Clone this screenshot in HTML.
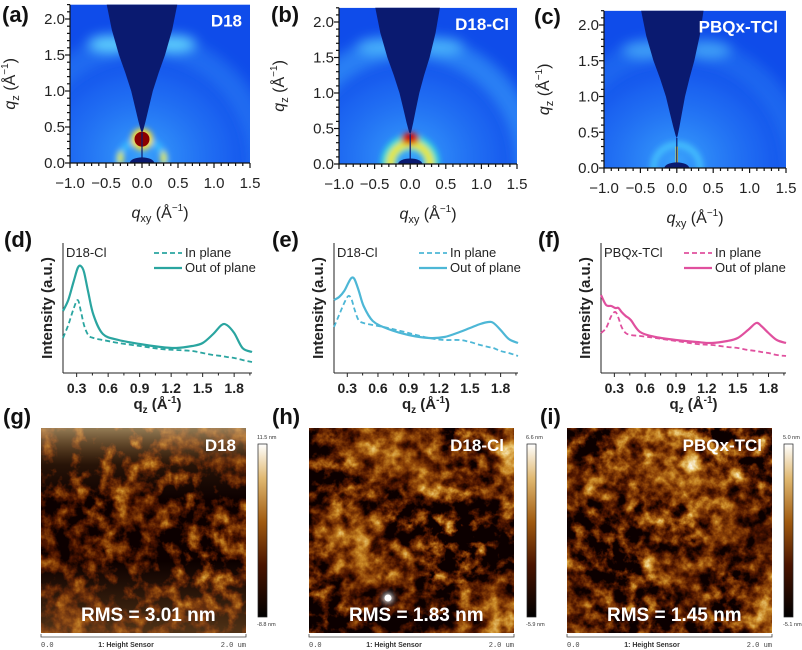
<!DOCTYPE html>
<html><head><meta charset="utf-8"><style>
html,body{margin:0;padding:0;background:#fff;}
svg{display:block;font-family:"Liberation Sans",Arial,sans-serif;}
</style></head><body>
<svg id="fig" width="802" height="650" viewBox="0 0 802 650" xmlns="http://www.w3.org/2000/svg">
<defs>
 <filter id="blur3" x="-50%" y="-50%" width="200%" height="200%"><feGaussianBlur stdDeviation="3"/></filter>
 <filter id="blur6" x="-50%" y="-50%" width="200%" height="200%"><feGaussianBlur stdDeviation="6"/></filter>
 <radialGradient id="bgGlow" cx="0.4" cy="0.95" r="0.85">
  <stop offset="0" stop-color="#40b0ff" stop-opacity="0.85"/>
  <stop offset="0.55" stop-color="#2a80f8" stop-opacity="0.45"/>
  <stop offset="1" stop-color="#1048e6" stop-opacity="0"/>
 </radialGradient>
 <linearGradient id="cbar" x1="0" y1="1" x2="0" y2="0">
  <stop offset="0" stop-color="#000"/>
  <stop offset="0.3" stop-color="#4a1400"/>
  <stop offset="0.55" stop-color="#a05a10"/>
  <stop offset="0.8" stop-color="#e0b870"/>
  <stop offset="1" stop-color="#fff"/>
 </linearGradient>
 <linearGradient id="gOverlay" x1="0" y1="0" x2="0" y2="1">
  <stop offset="0" stop-color="#f0d090" stop-opacity="0.6"/>
  <stop offset="0.18" stop-color="#c08030" stop-opacity="0.15"/>
  <stop offset="0.35" stop-color="#c08030" stop-opacity="0"/>
  <stop offset="0.65" stop-color="#c08030" stop-opacity="0"/>
  <stop offset="1" stop-color="#d09040" stop-opacity="0.35"/>
 </linearGradient>
</defs>
</svg>
<script>
const NS="http://www.w3.org/2000/svg";
const svg=document.getElementById('fig');
function el(tag,attrs,parent){const e=document.createElementNS(NS,tag);for(const k in attrs)e.setAttribute(k,attrs[k]);(parent||svg).appendChild(e);return e;}
function txt(s,attrs,parent){const t=el('text',attrs,parent);t.textContent=s;return t;}

/* ---------- line profile data (d,e,f) ---------- */
const qVals=[0.17,0.22,0.27,0.31,0.34,0.37,0.41,0.46,0.55,0.7,0.9,1.1,1.25,1.4,1.5,1.6,1.68,1.73,1.8,1.88,1.97];
const dOut=[62,73,91,105,107,101,81,58,39,33,29,26,25,27,30,39,48,48,40,25,21];
const dIn=[35,48,64,73,62,48,38,35,33,30,27,24,23,22,20,18,17,16,15,13,11];
const eOut=[73,76,82,90,95,94,83,67,52,44,38,35,36,41,45,49,51,50,43,34,30];
const eIn=[46,58,70,77,74,64,53,50,48,45,40,35,33,33,31,28,26,25,22,20,17];
const fOut=[78,68,67,65,65,61,57,53,41,36,33,31,30,32,35,43,50,47,40,33,30];
const fIn=[40,45,57,61,55,46,40,38,37,35,32,29,28,26,25,23,22,21,20,18,17];
const qTicks=[0.3,0.6,0.9,1.2,1.5,1.8];
const qTickLabels=["0.3","0.6","0.9","1.2","1.5","1.8"];

/* ---------- GIWAXS axes ---------- */
const xyTicks=[-1.0,-0.5,0.0,0.5,1.0,1.5];
const xyTickLabels=["\u22121.0","\u22120.5","0.0","0.5","1.0","1.5"];
const zTicks=[0.0,0.5,1.0,1.5,2.0];
const zTickLabels=["0.0","0.5","1.0","1.5","2.0"];

function panelLabel(s,x,y){const t=txt(s,{x:x,y:y,'font-size':22,'font-weight':'bold',fill:'#111'});

}

/* ---------- GIWAXS panels ---------- */
function giwaxs(id,P){
 const g=el('g',{});
 
 
 const sx=(P.x1-P.x0)/2.5, sy=(P.y0-P.y2)/2.0;
 const X=q=>P.x0+(q+1)*sx, Y=q=>P.y0-q*sy;
 const top=Y(2.2), bot=Y(0);
 const cp=el('clipPath',{id:'clip'+id},svg.querySelector('defs'));
 el('rect',{x:P.x0,y:top,width:P.x1-P.x0,height:bot-top},cp);
 const img=el('g',{'clip-path':'url(#clip'+id+')'},g);
 
 
 el('rect',{x:P.x0,y:top,width:P.x1-P.x0,height:bot-top,fill:'#0f4cea'},img);
 el('rect',{x:P.x0,y:top,width:P.x1-P.x0,height:bot-top,fill:'url(#bgGlow)'},img);
 const bl=el('g',{filter:'url(#blur6)'},img);
 const bs=el('g',{filter:'url(#blur3)'},img);
 el('ellipse',{cx:X(-0.45),cy:Y(1.65),rx:0.3*sx,ry:0.12*sy,fill:'#6ee8ff',opacity:P.hiGlow},bl);
 el('ellipse',{cx:X(0.45),cy:Y(1.65),rx:0.3*sx,ry:0.12*sy,fill:'#6ee8ff',opacity:P.hiGlow},bl);
 el('circle',{cx:X(0),cy:Y(0),r:1.65*sx,fill:'none',stroke:'#48b8ff','stroke-width':0.35*sx,opacity:P.ringGlow},bl);
 if(P.kind==='a'){
  el('circle',{cx:X(0),cy:Y(0),r:0.32*sx,fill:'none',stroke:'#40d0ff','stroke-width':7,opacity:0.6},bs);
  el('ellipse',{cx:X(-0.3),cy:Y(0.07),rx:3,ry:7,fill:'#f0f040'},bs);
  el('ellipse',{cx:X(0.3),cy:Y(0.07),rx:3,ry:7,fill:'#f0f040'},bs);
  el('circle',{cx:X(0),cy:Y(0.33),r:11,fill:'#ffe030'},bs);
  el('circle',{cx:X(0),cy:Y(0.33),r:7.5,fill:'#8a0000'},img);
 } else if(P.kind==='b'){
  el('circle',{cx:X(0),cy:Y(0),r:0.3*sx,fill:'none',stroke:'#30e8d0','stroke-width':16,opacity:0.85},bs);
  el('circle',{cx:X(0),cy:Y(0),r:0.28*sx,fill:'none',stroke:'#ffe820','stroke-width':8,opacity:0.9},bs);
  el('ellipse',{cx:X(0),cy:Y(0.36),rx:9,ry:6,fill:'#d01010'},bs);
 } else {
  el('circle',{cx:X(0),cy:Y(0),r:0.32*sx,fill:'none',stroke:'#50d8ff','stroke-width':6,opacity:0.65},bs);
  el('rect',{x:X(0)-1.2,y:Y(0.3),width:2.4,height:0.3*sy,fill:'#f0e040'},img);
 }
 const L=[[-0.015,0.45],[-0.05,0.58],[-0.09,0.75],[-0.15,1.0],[-0.23,1.25],[-0.32,1.5],[-0.42,1.85],[-0.5,2.25]];
 let d='M'+X(0)+','+Y(0.42);
 L.forEach(p=>d+=' L'+X(p[0]*P.wl).toFixed(1)+','+Y(p[1]).toFixed(1));
 L.slice().reverse().forEach(p=>d+=' L'+X(-p[0]*P.wr).toFixed(1)+','+Y(p[1]).toFixed(1));
 d+='Z';
 const w=el('path',{d:d,fill:'#0a1a70'},img);
 
 
 el('line',{x1:X(0),y1:Y(0.42),x2:X(0),y2:Y(0),stroke:'#0a1a70','stroke-width':1.2},img);
 el('ellipse',{cx:X(0),cy:Y(0),rx:0.17*sx,ry:0.05*sy+2,fill:'#0a1a70'},img);
 const ax=el('g',{stroke:'#111','stroke-width':1.2},g);
 
 
 el('line',{x1:P.x0,y1:top,x2:P.x0,y2:bot},ax);
 el('line',{x1:P.x0,y1:bot,x2:P.x1,y2:bot},ax);
 for(let i=0;i<=22;i++){const yy=Y(i*0.1);el('line',{x1:P.x0,y1:yy,x2:P.x0-(i%5==0?5:3),y2:yy},ax);}
 for(let i=0;i<=25;i++){const xx=X(-1+i*0.1);el('line',{x1:xx,y1:bot,x2:xx,y2:bot+(i%5==0?5:3)},ax);}
 zTicks.forEach((v,i)=>{const t=txt(zTickLabels[i],{x:P.x0-5,y:Y(v)+5,'font-size':15,'text-anchor':'end',fill:'#222'},g);
  });
 xyTicks.forEach((v,i)=>{const t=txt(xyTickLabels[i],{x:X(v),y:bot+25,'font-size':15,'text-anchor':'middle',fill:'#222'},g);
  });
 const yt=el('text',{transform:'translate('+(P.x0-55)+','+(top+(bot-top)/2)+') rotate(-90)','font-size':16,'text-anchor':'middle',fill:'#222'},g);
 yt.innerHTML='<tspan font-style="italic">q</tspan><tspan font-size="11" dy="4">z</tspan><tspan dy="-4"> (Å</tspan><tspan font-size="10" dy="-7">\u22121</tspan><tspan dy="7">)</tspan>';
 
 const xt=el('text',{x:X(0.25),y:bot+55,'font-size':16,'text-anchor':'middle',fill:'#222'},g);
 xt.innerHTML='<tspan font-style="italic">q</tspan><tspan font-size="11" dy="4">xy</tspan><tspan dy="-4"> (Å</tspan><tspan font-size="10" dy="-7">\u22121</tspan><tspan dy="7">)</tspan>';
 
 const nm=txt(P.name,{x:P.x1-8,y:top+22,'font-size':17,'font-weight':'bold',fill:'#fff','text-anchor':'end'},g);
 
}
panelLabel('(a)',2,22);panelLabel('(b)',271,22);panelLabel('(c)',534,24);
giwaxs('a',{x0:70,x1:250,y0:163,y2:19,kind:'a',name:'D18',hiGlow:0.9,ringGlow:0.25,wl:1,wr:1});
giwaxs('b',{x0:339,x1:517,y0:164,y2:22,kind:'b',name:'D18-Cl',hiGlow:0.6,ringGlow:0.45,wl:1,wr:0.85});
giwaxs('c',{x0:604,x1:786,y0:168,y2:25,kind:'c',name:'PBQx-TCl',hiGlow:0.5,ringGlow:0.2,wl:1,wr:0.75});

/* ---------- line profile panels ---------- */
function smoothPath(pts){
 let d='M'+pts[0][0].toFixed(1)+','+pts[0][1].toFixed(1);
 for(let i=0;i<pts.length-1;i++){
  const p0=pts[Math.max(0,i-1)],p1=pts[i],p2=pts[i+1],p3=pts[Math.min(pts.length-1,i+2)];
  const c1=[p1[0]+(p2[0]-p0[0])/6,p1[1]+(p2[1]-p0[1])/6];
  const c2=[p2[0]-(p3[0]-p1[0])/6,p2[1]-(p3[1]-p1[1])/6];
  d+=' C'+c1[0].toFixed(1)+','+c1[1].toFixed(1)+' '+c2[0].toFixed(1)+','+c2[1].toFixed(1)+' '+p2[0].toFixed(1)+','+p2[1].toFixed(1);
 }
 return d;
}
function profile(id,P){
 const g=el('g',{});
 
 
 const qmin=0.17,qmax=1.97;
 const X=q=>P.xL+(q-qmin)/(qmax-qmin)*(P.xR-P.xL);
 const Y=v=>373-v;
 const top=243,bot=373;
 const ax=el('g',{stroke:'#222','stroke-width':1},g);
 
 el('line',{x1:P.xL,y1:top,x2:P.xL,y2:bot},ax);
 el('line',{x1:P.xL,y1:bot,x2:P.xR,y2:bot},ax);
 qTicks.forEach((v,i)=>{el('line',{x1:X(v),y1:bot,x2:X(v),y2:bot+4},ax);
  el('line',{x1:X(v+0.15),y1:bot,x2:X(v+0.15),y2:bot+2.5},ax);
  const t=txt(qTickLabels[i],{x:X(v),y:bot+20,'font-size':14,'font-weight':'bold','text-anchor':'middle',fill:'#222',stroke:'none'},g);
  });
 const pin=el('path',{d:smoothPath(qVals.map((q,i)=>[X(q),Y(P.inn[i])])),fill:'none',stroke:P.c,'stroke-width':1.8,'stroke-dasharray':'5,3'},g);
 
 const pout=el('path',{d:smoothPath(qVals.map((q,i)=>[X(q),Y(P.out[i])])),fill:'none',stroke:P.c,'stroke-width':2.2},g);
 
 const s=txt(P.name,{x:P.xL+3,y:257,'font-size':13,fill:'#222'},g);
 
 const lx=P.xL+P.lg;
 const l1=el('g',{},g);
 el('line',{x1:lx,y1:253,x2:lx+28,y2:253,stroke:P.c,'stroke-width':1.8,'stroke-dasharray':'5,3'},l1);
 txt('In plane',{x:lx+31,y:257,'font-size':13,fill:'#222'},l1);
 const l2=el('g',{},g);
 el('line',{x1:lx,y1:268,x2:lx+28,y2:268,stroke:P.c,'stroke-width':2.2},l2);
 txt('Out of plane',{x:lx+31,y:272,'font-size':13,fill:'#222'},l2);
 const yt=txt('Intensity (a.u.)',{transform:'translate('+(P.xL-11)+',308) rotate(-90)','font-size':15,'font-weight':'bold','text-anchor':'middle',fill:'#222'},g);
 
 const xt=el('text',{x:(P.xL+P.xR)/2,y:409,'font-size':15,'font-weight':'bold','text-anchor':'middle',fill:'#222'},g);
 xt.innerHTML='q<tspan font-size="10" dy="4">z</tspan><tspan dy="-4"> (Å</tspan><tspan font-size="10" dy="-6">-1</tspan><tspan dy="6">)</tspan>';
 
}
panelLabel('(d)',4,247);panelLabel('(e)',272,247);panelLabel('(f)',538,247);
profile('d',{xL:63,xR:252,out:dOut,inn:dIn,c:'#2aa5a0',name:'D18-Cl',lg:91});
profile('e',{xL:334,xR:518,out:eOut,inn:eIn,c:'#4db7d6',name:'D18-Cl',lg:85});
profile('f',{xL:601,xR:786,out:fOut,inn:fIn,c:'#e0509e',name:'PBQx-TCl',lg:83});

/* ---------- AFM panels ---------- */
function afm(id,P){
 const defs=svg.querySelector('defs');
 const f=el('filter',{id:'afm'+id,x:P.x,y:428,width:205,height:205,filterUnits:'userSpaceOnUse','color-interpolation-filters':'sRGB'},defs);
 el('feTurbulence',{type:'fractalNoise',baseFrequency:'0.07',numOctaves:4,seed:P.seed,result:'hi'},f);
 el('feTurbulence',{type:'fractalNoise',baseFrequency:'0.012',numOctaves:2,seed:P.seed+7,result:'lo'},f);
 el('feComposite',{in:'hi',in2:'lo',operator:'arithmetic',k1:0,k2:0.75,k3:0.55,k4:-0.15,result:'mix'},f);
 el('feColorMatrix',{in:'mix',type:'matrix',values:P.gain+' 0 0 0 '+P.off+' '+P.gain+' 0 0 0 '+P.off+' '+P.gain+' 0 0 0 '+P.off+' 0 0 0 0 1',result:'gray'},f);
 const ct=el('feComponentTransfer',{in:'gray'},f);
 el('feFuncR',{type:'table',tableValues:'0.05 0.30 0.55 0.78 0.92 1'},ct);
 el('feFuncG',{type:'table',tableValues:'0 0.08 0.26 0.52 0.78 1'},ct);
 el('feFuncB',{type:'table',tableValues:'0 0 0.03 0.14 0.45 1'},ct);
 const g=el('g',{});
 
 
 const im=el('rect',{x:P.x,y:428,width:205,height:205,fill:'#000',filter:'url(#afm'+id+')'},g);
 
 if(P.overlay) el('rect',{x:P.x,y:428,width:205,height:205,fill:'url(#gOverlay)'},g);
 if(P.spot){el('circle',{cx:P.spot[0],cy:P.spot[1],r:5,fill:'#fff',filter:'url(#blur3)'},g);el('circle',{cx:P.spot[0],cy:P.spot[1],r:3.5,fill:'#fff'},g);}
 const nm=txt(P.name,{x:P.x+195,y:451,'font-size':17,'font-weight':'bold',fill:'#fff','text-anchor':'end'},g);
 
 const r=txt(P.rms,{x:P.x+40,y:621,'font-size':19,'font-weight':'bold',fill:'#fff'},g);
 
 const cb=el('rect',{x:P.cx,y:444,width:9,height:173,fill:'url(#cbar)',stroke:'#222','stroke-width':0.7},g);
 
 txt(P.hi,{x:P.cx-1,y:439,'font-size':5.5,fill:'#333'},g);
 txt(P.lo,{x:P.cx-1,y:626,'font-size':5.5,fill:'#333'},g);
 const sc=el('g',{},g);
 el('path',{d:'M'+P.x+',634 V637 H'+(P.x+205)+' V634',fill:'none',stroke:'#444','stroke-width':0.8},sc);
 txt('0.0',{x:P.x,y:647,'font-size':7,fill:'#444','font-family':'Liberation Mono, monospace'},sc);
 txt('1: Height Sensor',{x:P.x+85,y:647,'font-size':7,'font-weight':'bold',fill:'#333','text-anchor':'middle'},sc);
 txt('2.0 um',{x:P.x+205,y:647,'font-size':7,fill:'#444','text-anchor':'end','font-family':'Liberation Mono, monospace'},sc);
}
panelLabel('(g)',3,424);panelLabel('(h)',272,424);panelLabel('(i)',540,424);
afm('g',{x:41,seed:3,gain:1.5,off:-0.38,overlay:true,name:'D18',rms:'RMS = 3.01 nm',cx:258,hi:'11.5 nm',lo:'-8.8 nm'});
afm('h',{x:309,seed:11,gain:1.55,off:-0.31,name:'D18-Cl',rms:'RMS = 1.83 nm',cx:527,hi:'6.6 nm',lo:'-5.9 nm',spot:[388,598]});
afm('i',{x:567,seed:21,gain:1.55,off:-0.26,name:'PBQx-TCl',rms:'RMS = 1.45 nm',cx:784,hi:'5.0 nm',lo:'-5.1 nm'});
</script>
</body></html>
